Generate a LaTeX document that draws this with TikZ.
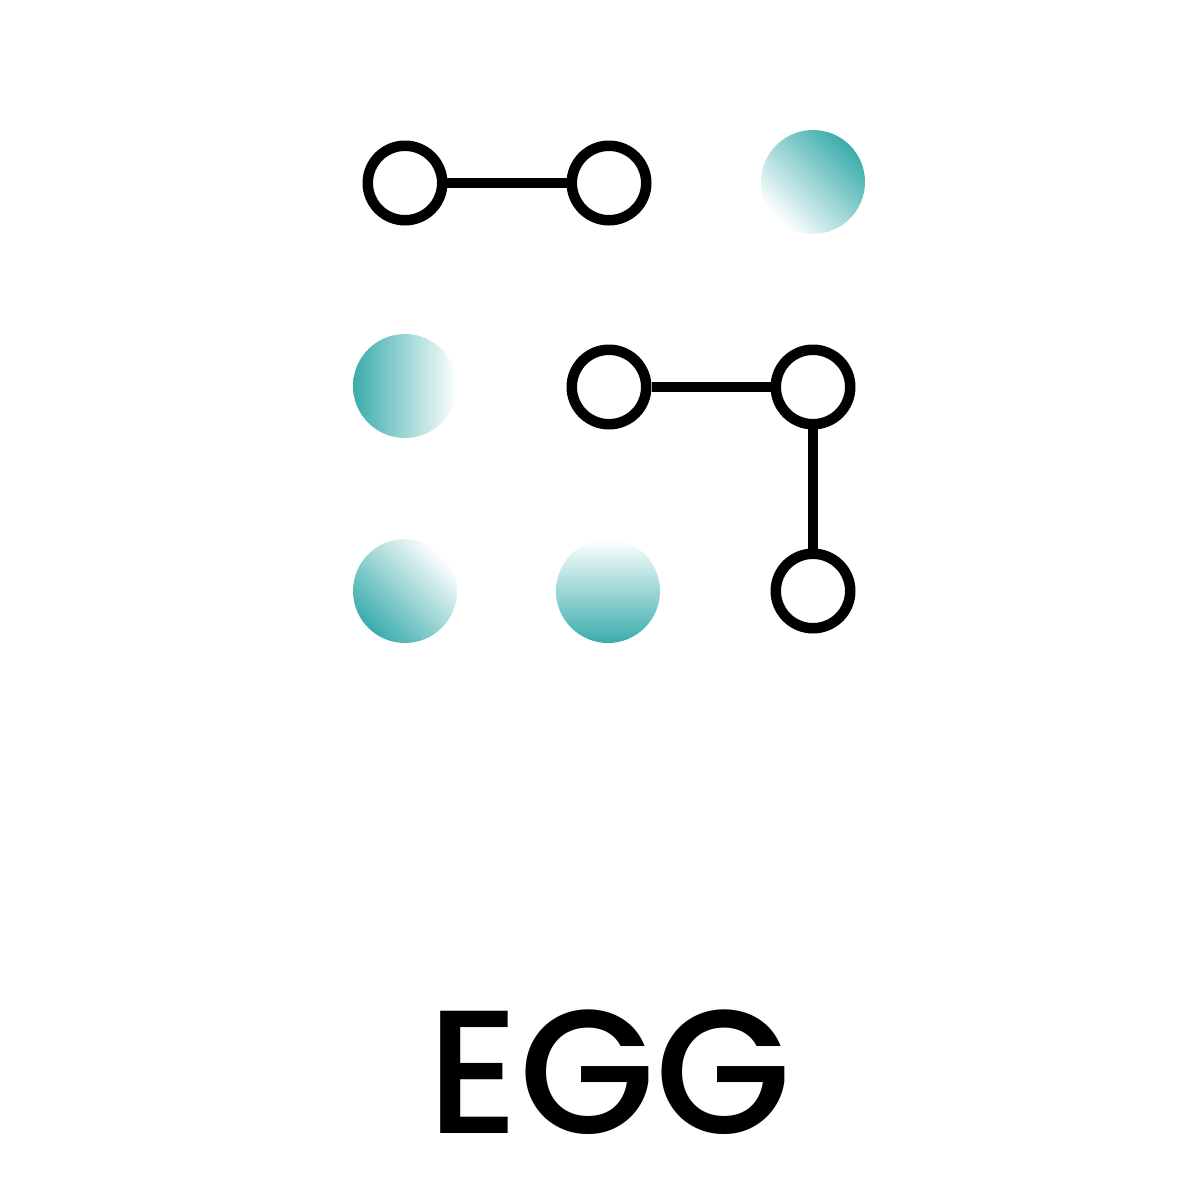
\documentclass[tikz,border=0pt]{standalone}
\usepackage{fontspec}
\newfontfamily\eggfont{Poppins}[UprightFont=* Medium]
\definecolor{eggteal}{RGB}{58,172,172}
\begin{document}
\begin{tikzpicture}[x=0.02cm,y=-0.02cm,
  ring/.style={circle,draw=black,fill=white,line width=0.21cm,minimum size=1.49cm,inner sep=0pt},
  dot/.style={circle,minimum size=2.08cm,inner sep=0pt},
  link/.style={line width=0.2cm,black}]
\fill[white] (0,0) rectangle (1200,1200);
\useasboundingbox (0,0) rectangle (1200,1200);
% open circles
\node[ring] (a1) at (405,183) {};
\node[ring] (a2) at (609,183) {};
\node[ring] (b2) at (609,387) {};
\node[ring] (b3) at (813,387) {};
\node[ring] (c3) at (813,591) {};
% gradient dots
\node[dot,top color=eggteal,bottom color=white,shading angle=-45] (a3) at (813,182) {};
\node[dot,left color=eggteal,right color=white] (b1) at (405,386) {};
\node[dot,top color=white,bottom color=eggteal,shading angle=-45] (c1) at (405,591) {};
\node[dot,top color=white,bottom color=eggteal] (c2) at (608,591) {};
% connectors
\draw[link] (a1) -- (a2);
\draw[link] (b2) -- (b3);
\draw[link] (b3) -- (c3);
% title
\node[anchor=base,inner sep=0pt] (title) at (609,1133) {\fontsize{100pt}{100pt}\eggfont EGG};
\end{tikzpicture}
\end{document}
